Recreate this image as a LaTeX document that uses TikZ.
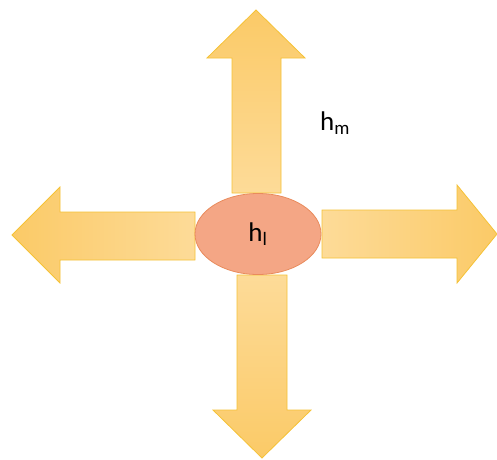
\documentclass[tikz,border=0pt]{standalone}
\usepackage{fontspec}
\setmainfont{Carlito}
\usetikzlibrary{shapes.geometric}
\definecolor{arrowedge}{HTML}{F5C236}
\definecolor{arrowdark}{HTML}{FBCA67}
\definecolor{arrowlight}{HTML}{FDDB98}
\definecolor{cellfill}{HTML}{F4A685}
\definecolor{celledge}{HTML}{E98B5C}
\tikzset{
    bigarrow/.style={draw=arrowedge, line width=0.8pt, line join=miter},
    cell/.style={ellipse, draw=celledge, fill=cellfill, line width=0.8pt,
        minimum width=126pt, minimum height=81pt, inner sep=0pt},
    label/.style={font=\fontsize{27}{32}\selectfont}
}
\begin{document}
\begin{tikzpicture}[x=1pt, y=-1pt]
    \useasboundingbox (0,0) rectangle (497,459);

    % Arrow pointing up
    \draw[bigarrow, top color=arrowdark, bottom color=arrowlight]
        (232,193) -- (232,58) -- (207,58) -- (256,10) -- (305,58) -- (281,58) -- (281,193) -- cycle;
    % Arrow pointing left
    \draw[bigarrow, left color=arrowdark, right color=arrowlight]
        (195,212) -- (60,212) -- (60,187) -- (12,235) -- (60,283) -- (60,260) -- (195,260) -- cycle;
    % Arrow pointing right
    \draw[bigarrow, left color=arrowlight, right color=arrowdark]
        (322,210) -- (457,210) -- (457,185) -- (497,234) -- (457,283) -- (457,258) -- (322,258) -- cycle;
    % Arrow pointing down
    \draw[bigarrow, top color=arrowlight, bottom color=arrowdark]
        (237,275) -- (287,275) -- (287,410) -- (311,410) -- (262,458) -- (213,410) -- (237,410) -- cycle;

    % The central cell
    \node[cell, label] (hl) at (258,234) {h\textsubscript{l}};

    % Label of the outgoing messages
    \node[label] (hm) at (335,123) {h\textsubscript{m}};
\end{tikzpicture}
\end{document}
